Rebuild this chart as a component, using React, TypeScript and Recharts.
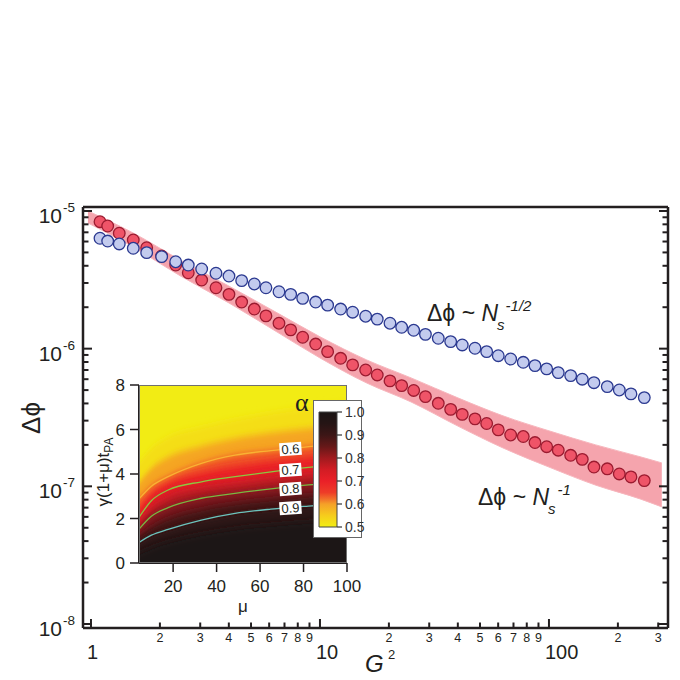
import React from 'react';
import {
  Area,
  Bar,
  ComposedChart,
  Line,
  ReferenceDot,
  Scatter,
  XAxis,
  YAxis
} from 'recharts';

// main panel: G^2 on x, delta-phi on y (both log)
const g2 = [
  1.095, 1.183, 1.329, 1.53, 1.751, 2.035, 2.344, 2.66, 3.044, 3.515,
  4.005, 4.551, 5.167, 5.81, 6.622, 7.449, 8.404, 9.577, 10.8, 12.31,
  13.89, 15.83, 17.79, 20.22, 22.74, 25.66, 28.88, 32.86, 37.22, 41.82,
  47.53, 53.45, 60.07, 68.05, 77.23, 86.88, 97.72, 109.8, 124.4, 139.8,
  157.2, 179.7, 202.8, 228.1, 260.8
];
const redDphi = [
  8.36e-6, 7.78e-6, 6.89e-6, 6.16e-6, 5.41e-6, 4.71e-6, 4.05e-6, 3.56e-6, 3.15e-6, 2.77e-6,
  2.48e-6, 2.18e-6, 1.94e-6, 1.73e-6, 1.53e-6, 1.37e-6, 1.21e-6, 1.08e-6, 9.51e-7, 8.51e-7,
  7.62e-7, 7.0e-7, 6.44e-7, 5.83e-7, 5.39e-7, 4.97e-7, 4.48e-7, 4.01e-7, 3.62e-7, 3.33e-7,
  3.09e-7, 2.86e-7, 2.57e-7, 2.36e-7, 2.3e-7, 2.08e-7, 1.94e-7, 1.83e-7, 1.68e-7, 1.57e-7,
  1.38e-7, 1.34e-7, 1.23e-7, 1.17e-7, 1.1e-7
];
const blueDphi = [
  6.34e-6, 6.05e-6, 5.76e-6, 5.36e-6, 4.98e-6, 4.66e-6, 4.28e-6, 4.05e-6, 3.79e-6, 3.53e-6,
  3.37e-6, 3.12e-6, 2.95e-6, 2.77e-6, 2.59e-6, 2.48e-6, 2.32e-6, 2.18e-6, 2.07e-6, 1.94e-6,
  1.84e-6, 1.72e-6, 1.64e-6, 1.53e-6, 1.43e-6, 1.36e-6, 1.27e-6, 1.19e-6, 1.125e-6, 1.064e-6,
  1.007e-6, 9.51e-7, 8.89e-7, 8.41e-7, 7.96e-7, 7.53e-7, 7.13e-7, 6.7e-7, 6.37e-7, 6.0e-7,
  5.66e-7, 5.3e-7, 5.01e-7, 4.69e-7, 4.41e-7
];
const bandG2 = [0.97, 1.5, 2.5, 4, 6.5, 10, 16, 25, 40, 63, 100, 160, 250, 311];
const bandHigh = [
  1.0e-5, 7.04e-6, 4.33e-6, 2.85e-6, 1.82e-6, 1.22e-6, 8.28e-7, 6.13e-7, 4.39e-7, 3.25e-7,
  2.53e-7, 2.0e-7, 1.64e-7, 1.48e-7
];
const bandLow = [
  8.18e-6, 5.57e-6, 3.32e-6, 2.15e-6, 1.32e-6, 8.56e-7, 5.63e-7, 4.1e-7, 2.74e-7, 1.9e-7,
  1.38e-7, 1.02e-7, 8.1e-8, 7.09e-8
];
const xTicks = [1, 2, 3, 4, 5, 6, 7, 8, 9, 10, 20, 30, 40, 50, 60, 70, 80, 90, 100, 200, 300];
const yTicks = [
  1e-8, 2e-8, 3e-8, 4e-8, 5e-8, 6e-8, 7e-8, 8e-8, 9e-8,
  1e-7, 2e-7, 3e-7, 4e-7, 5e-7, 6e-7, 7e-7, 8e-7, 9e-7,
  1e-6, 2e-6, 3e-6, 4e-6, 5e-6, 6e-6, 7e-6, 8e-6, 9e-6, 1e-5
];

// inset: alpha map, contour heights (y) at each mu
const muGrid = [4.3, 10, 17.7, 33, 48.5, 65, 82.3, 100];
const a50 = [4.5, 5.15, 5.65, 6.1, 6.45, 6.75, 7.0, 7.2];
const a55 = [3.6, 4.25, 4.75, 5.25, 5.6, 5.85, 6.05, 6.2];
const a60 = [2.88, 3.45, 3.88, 4.48, 4.85, 5.05, 5.23, 5.4];
const a65 = [2.45, 3.1, 3.58, 4.06, 4.36, 4.58, 4.77, 4.93];
const a70 = [2.05, 2.8, 3.28, 3.65, 3.88, 4.1, 4.3, 4.45];
const a75 = [1.78, 2.4, 2.88, 3.28, 3.5, 3.72, 3.9, 4.05];
const a80 = [1.52, 2.1, 2.49, 2.91, 3.13, 3.33, 3.51, 3.65];
const a85 = [1.2, 1.62, 2.0, 2.42, 2.68, 2.88, 3.04, 3.17];
const a90 = [0.92, 1.25, 1.51, 1.93, 2.23, 2.42, 2.56, 2.68];
const a95 = [0.45, 0.7, 0.95, 1.3, 1.55, 1.72, 1.85, 1.95];
const contourText = ['0.6', '0.7', '0.8', '0.9'];
const contourLabelMu = [74, 74, 74, 74];
const contourLabelY = [5.12, 4.18, 3.33, 2.47];
const insetXTicks = [20, 40, 60, 80, 100];
const insetYTicks = [0, 2, 4, 6, 8];
const colorbarTicks = [0.5, 0.6, 0.7, 0.8, 0.9, 1.0];

const redPts = g2.map((x, i) => ({ x, y: redDphi[i] }));
const bluePts = g2.map((x, i) => ({ x, y: blueDphi[i] }));
const bandData = bandG2.map((x, i) => ({ x, y: [bandLow[i], bandHigh[i]] }));
const insetData = muGrid.map((mu, i) => ({
  mu,
  a50: a50[i], a55: a55[i], a60: a60[i], a65: a65[i], a70: a70[i],
  a75: a75[i], a80: a80[i], a85: a85[i], a90: a90[i], a95: a95[i]
}));
const colorbarData = [{ name: 'alpha', range: [0.5, 1.0] }];

const bands = [
  { key: 'a50', fill: '#f4de18' },
  { key: 'a55', fill: '#f5a524' },
  { key: 'a60', fill: '#f05228' },
  { key: 'a65', fill: '#ea2228' },
  { key: 'a70', fill: '#d91d25' },
  { key: 'a75', fill: '#ac1b21' },
  { key: 'a80', fill: '#74191b' },
  { key: 'a85', fill: '#441616' },
  { key: 'a90', fill: '#2a1414' },
  { key: 'a95', fill: '#1c1515' }
];
const contours = [
  { key: 'a60', stroke: '#f9b233' },
  { key: 'a70', stroke: '#8dc63f' },
  { key: 'a80', stroke: '#78b843' },
  { key: 'a90', stroke: '#6cc4bd' }
];

const INK = '#231f20';
const SANS = 'Liberation Sans, Arial, sans-serif';

const isMajor = (v: number) => Math.abs(Math.log10(v) - Math.round(Math.log10(v))) < 1e-6;
const digit = (v: number) => Math.round(v / Math.pow(10, Math.floor(Math.log10(v) + 1e-9)));

function BottomTick({ x, y, payload }: any) {
  const v = payload.value;
  const major = isMajor(v);
  return (
    <g>
      <line x1={x} x2={x} y1={y} y2={y - (major ? 9 : 5.5)} stroke={INK} strokeWidth={2} />
      {major ? (
        <text x={x - 4} y={y + 31} fontSize={20} fontFamily={SANS} fill={INK}>
          {v}
        </text>
      ) : (
        <text x={x} y={y + 14} textAnchor="middle" fontSize={12.5} fontFamily={SANS} fill={INK}>
          {digit(v)}
        </text>
      )}
    </g>
  );
}

function TopTick({ x, y, payload }: any) {
  const major = isMajor(payload.value);
  return <line x1={x} x2={x} y1={y} y2={y + (major ? 9 : 5.5)} stroke={INK} strokeWidth={2} />;
}

function LeftTick({ x, y, payload }: any) {
  const v = payload.value;
  const major = isMajor(v);
  return (
    <g>
      <line x1={x} x2={x + (major ? 9 : 5.5)} y1={y} y2={y} stroke={INK} strokeWidth={2} />
      {major && (
        <g fontFamily={SANS} fill={INK}>
          <text x={x - 21} y={y + 12} textAnchor="end" fontSize={21}>10</text>
          <text x={x - 20} y={y + 1} fontSize={13.5}>{'-' + Math.round(-Math.log10(v))}</text>
        </g>
      )}
    </g>
  );
}

function RightTick({ x, y, payload }: any) {
  const major = isMajor(payload.value);
  return <line x1={x} x2={x - (major ? 9 : 5.5)} y1={y} y2={y} stroke={INK} strokeWidth={2} />;
}

const dot = (fill: string, stroke: string) => (p: any) => (
  <circle cx={p.cx} cy={p.cy} r={5.8} fill={fill} stroke={stroke} strokeWidth={1.3} />
);

const layer: React.CSSProperties = { position: 'absolute', left: 0, top: 0 };

export default function App() {
  return (
    <div style={{ position: 'absolute', left: 0, top: 0, width: 680, height: 680, background: '#fff' }}>
      <style>{'.inset-map .recharts-area-area{filter:url(#vsoft)}'}</style>
      <svg width={0} height={0} style={{ position: 'absolute' }}>
        <defs>
          <filter id="vsoft" x="0" y="-0.3" width="1" height="1.6">
            <feGaussianBlur stdDeviation="0 3.5" />
          </filter>
        </defs>
      </svg>

      <div style={layer}>
        <ComposedChart width={680} height={680} margin={{ top: 206, left: 82, right: 11, bottom: 51 }}>
          <XAxis
            xAxisId="b" dataKey="x" type="number" scale="log" domain={[0.923, 331]} allowDataOverflow
            ticks={xTicks} interval={0} height={1} tickSize={0} tickMargin={0} tickLine={false}
            axisLine={{ stroke: INK, strokeWidth: 2.5 }} tick={(p: any) => <BottomTick {...p} />}
          />
          <XAxis
            xAxisId="t" orientation="top" type="number" scale="log" domain={[0.923, 331]} allowDataOverflow
            ticks={xTicks} interval={0} height={1} tickSize={0} tickMargin={0} tickLine={false}
            axisLine={{ stroke: INK, strokeWidth: 2.5 }} tick={(p: any) => <TopTick {...p} />}
          />
          <YAxis
            yAxisId="l" dataKey="y" type="number" scale="log" domain={[9.35e-9, 1.069e-5]} allowDataOverflow
            ticks={yTicks} interval={0} width={1} tickSize={0} tickMargin={0} tickLine={false}
            axisLine={{ stroke: INK, strokeWidth: 2.5 }} tick={(p: any) => <LeftTick {...p} />}
          />
          <YAxis
            yAxisId="r" orientation="right" type="number" scale="log" domain={[9.35e-9, 1.069e-5]} allowDataOverflow
            ticks={yTicks} interval={0} width={1} tickSize={0} tickMargin={0} tickLine={false}
            axisLine={{ stroke: INK, strokeWidth: 2.5 }} tick={(p: any) => <RightTick {...p} />}
          />
          <Area
            xAxisId="b" yAxisId="l" data={bandData} dataKey="y" type="monotone"
            fill="#f5a4ad" fillOpacity={1} stroke="#f7b6bd" strokeWidth={1} isAnimationActive={false}
          />
          <Scatter
            xAxisId="b" yAxisId="l" data={redPts} dataKey="y"
            shape={dot('#ef5468', '#9b1b30')} isAnimationActive={false}
          />
          <Scatter
            xAxisId="b" yAxisId="l" data={bluePts} dataKey="y"
            shape={dot('#c3cbee', '#2b3990')} isAnimationActive={false}
          />
        </ComposedChart>
      </div>

      <div style={{ ...layer, left: 139, top: 385, width: 208, height: 178, background: '#f2ec14' }} />

      <div style={layer} className="inset-map">
        <ComposedChart width={680} height={680} data={insetData} margin={{ top: 385, left: 138, right: 333, bottom: 116 }}>
          <XAxis
            dataKey="mu" type="number" domain={[4.3, 100]} allowDataOverflow ticks={insetXTicks} interval={0}
            height={1} tickSize={9} tickMargin={8} axisLine={{ stroke: INK, strokeWidth: 2 }}
            tickLine={{ stroke: INK, strokeWidth: 1.5 }} tick={{ fontSize: 17, fill: INK, fontFamily: SANS }}
          />
          <YAxis
            type="number" domain={[0, 8]} allowDataOverflow ticks={insetYTicks} interval={0}
            width={1} tickSize={9} tickMargin={5} axisLine={{ stroke: INK, strokeWidth: 2 }}
            tickLine={{ stroke: INK, strokeWidth: 1.5 }} tick={{ fontSize: 17, fill: INK, fontFamily: SANS }}
          />
          {bands.map((b) => (
            <Area
              key={b.key} dataKey={b.key} type="monotone" baseValue={-1}
              fill={b.fill} fillOpacity={1} stroke="none" isAnimationActive={false}
            />
          ))}
          {contours.map((c) => (
            <Line
              key={c.key} dataKey={c.key} type="monotone" stroke={c.stroke}
              strokeWidth={1.3} dot={false} isAnimationActive={false}
            />
          ))}
          {contourText.map((t, i) => (
            <ReferenceDot
              key={t} x={contourLabelMu[i]} y={contourLabelY[i]} r={0}
              shape={(p: any) => (
                <g transform={`translate(${p.cx},${p.cy}) rotate(-4)`}>
                  <rect x={-11} y={-6.5} width={22} height={13} fill="#fff" />
                  <text x={0} y={4.5} textAnchor="middle" fontSize={13} fontFamily={SANS} fill={INK}>{t}</text>
                </g>
              )}
            />
          ))}
        </ComposedChart>
      </div>

      <div style={{ ...layer, left: 139, top: 385, width: 208, height: 178, border: '1.5px solid #707070', boxSizing: 'border-box' }} />
      <div style={{ ...layer, left: 313, top: 400, width: 49, height: 138, background: '#fff', border: '1.5px solid #666', boxSizing: 'border-box' }} />

      <div style={layer}>
        <ComposedChart width={680} height={680} data={colorbarData} barCategoryGap={0} margin={{ top: 412, left: 319, right: 342, bottom: 153 }}>
          <defs>
            <linearGradient id="alphaGrad" x1="0" y1="0" x2="0" y2="1">
              <stop offset="0" stopColor="#1a1414" />
              <stop offset="0.1" stopColor="#251414" />
              <stop offset="0.2" stopColor="#3c1616" />
              <stop offset="0.3" stopColor="#661818" />
              <stop offset="0.4" stopColor="#a01a1e" />
              <stop offset="0.5" stopColor="#d21c24" />
              <stop offset="0.6" stopColor="#ea2028" />
              <stop offset="0.7" stopColor="#ee3c28" />
              <stop offset="0.76" stopColor="#f2742a" />
              <stop offset="0.8" stopColor="#f5a028" />
              <stop offset="0.9" stopColor="#f6cc1c" />
              <stop offset="1" stopColor="#f2ee14" />
            </linearGradient>
          </defs>
          <XAxis dataKey="name" hide />
          <YAxis
            orientation="right" type="number" domain={[0.5, 1.0]} ticks={colorbarTicks} interval={0}
            width={1} tickSize={5} tickMargin={3} axisLine={false}
            tickLine={{ stroke: '#333', strokeWidth: 1.2 }}
            tick={{ fontSize: 14, fill: '#333', fontFamily: SANS }}
            tickFormatter={(v: number) => v.toFixed(1)}
          />
          <Bar dataKey="range" fill="url(#alphaGrad)" stroke="#444" strokeWidth={1} isAnimationActive={false} />
        </ComposedChart>
      </div>

      <svg style={layer} width={680} height={680}>
        <text x={427} y={321} fontSize={23} fontFamily={SANS} fill={INK}>
          Δϕ ~ <tspan fontStyle="italic">N</tspan>
          <tspan fontSize={15} fontStyle="italic" dx={-1} dy={9}>s</tspan>
          <tspan fontSize={15} fontStyle="italic" dx={1} dy={-19}>-1/2</tspan>
        </text>
        <text x={478} y={505} fontSize={23} fontFamily={SANS} fill={INK}>
          Δϕ ~ <tspan fontStyle="italic">N</tspan>
          <tspan fontSize={15} fontStyle="italic" dx={-1} dy={9}>s</tspan>
          <tspan fontSize={15} fontStyle="italic" dx={2} dy={-19}>-1</tspan>
        </text>
        <text transform="translate(40,418) rotate(-90)" textAnchor="middle" fontSize={26} fontFamily={SANS} fill={INK}>
          Δϕ
        </text>
        <text x={365} y={672} fontSize={24} fontStyle="italic" fontFamily={SANS} fill={INK}>G</text>
        <text x={388} y={659} fontSize={13} fontFamily={SANS} fill={INK}>2</text>
        <text x={295} y={411} fontSize={26} fontFamily="Liberation Serif, serif" fill={INK}>α</text>
        <text x={243} y={612} textAnchor="middle" fontSize={17} fontFamily={SANS} fill={INK}>μ</text>
        <text transform="translate(109,472) rotate(-90)" textAnchor="middle" fontSize={17} fontFamily={SANS} fill={INK}>
          γ(1+μ)t<tspan fontSize={12} dy={4}>PA</tspan>
        </text>
      </svg>
    </div>
  );
}
